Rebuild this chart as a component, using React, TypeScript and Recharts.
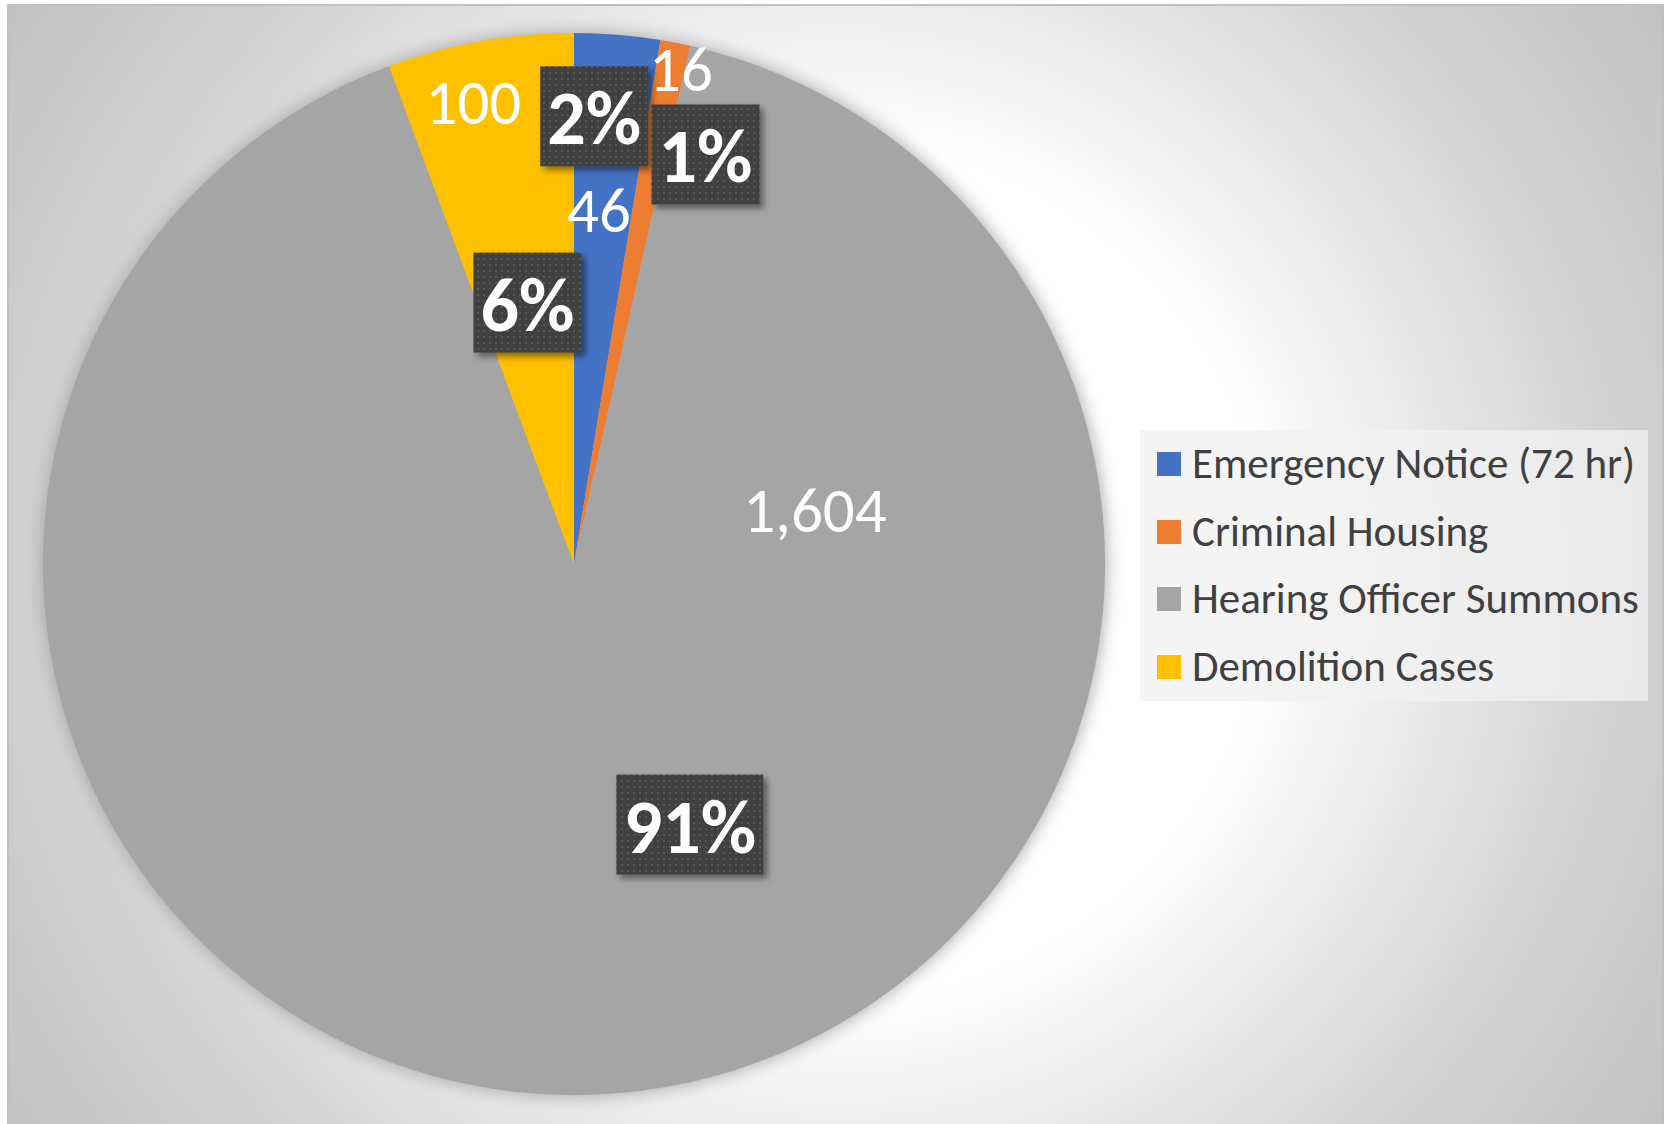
import React from 'react';
import { PieChart, Pie, Cell, Legend } from 'recharts';

const categories = ['Emergency Notice (72 hr)', 'Criminal Housing', 'Hearing Officer Summons', 'Demolition Cases'];
const caseCounts = [46, 16, 1604, 100];
const valueLabels = ['46', '16', '1,604', '100'];
const percentLabels = ['2%', '1%', '91%', '6%'];
const sliceColors = ['#4472C4', '#ED7D31', '#A5A5A5', '#FFC000'];

const data = categories.map((name, i) => ({ name, value: caseCounts[i] }));

// label placement relative to each slice: angle offset (deg, clockwise) from the slice mid-angle and radius fraction
const valuePlacement = [
  { da: -0.64, rf: 0.667 },
  { da: 1.2, rf: 0.953 },
  { da: -98.7, rf: 0.465 },
  { da: -2.1, rf: 0.89 },
];
const pctPlacement = [
  { da: -2.1, rf: 0.844 },
  { da: 6.8, rf: 0.81 },
  { da: -20.1, rf: 0.537 },
  { da: 0.1, rf: 0.5 },
];

const FONT = "Carlito, Lato, 'Open Sans', sans-serif";

const renderLabel = (props: any) => {
  const { cx, cy, midAngle, outerRadius, index } = props;
  const cw0 = 90 - midAngle;
  const pos = (p: { da: number; rf: number }) => {
    const a = ((cw0 + p.da) * Math.PI) / 180;
    const r = outerRadius * p.rf;
    return [cx + r * Math.sin(a), cy - r * Math.cos(a)];
  };
  const [vx, vy] = pos(valuePlacement[index]);
  const [px, py] = pos(pctPlacement[index]);
  const t = percentLabels[index];
  const w = 30 + 39 * t.length;
  const h = 100;
  return (
    <g key={`lbl-${index}`}>
      <text x={vx} y={vy} fill="#ffffff" fontSize={63} fontFamily={FONT} textAnchor="middle" dominantBaseline="central">
        {valueLabels[index]}
      </text>
      <rect x={px - w / 2} y={py - h / 2} width={w} height={h} fill="url(#dotPattern)" filter="url(#boxShadow)" />
      <text x={px} y={py + 2} fill="#ffffff" fontSize={76} fontWeight="bold" fontFamily={FONT} textAnchor="middle" dominantBaseline="central">
        {t}
      </text>
    </g>
  );
};

const renderLegend = () => (
  <div
    style={{
      width: 508,
      height: 271,
      background: 'rgba(242,242,242,0.75)',
      boxSizing: 'border-box',
      paddingTop: 0,
      paddingLeft: 17,
      fontFamily: FONT,
    }}
  >
    {categories.map((name, i) => (
      <div key={i} style={{ display: 'flex', alignItems: 'center', height: 67.7 }}>
        <div style={{ width: 24, height: 24, background: sliceColors[i], marginRight: 11, flex: 'none' }} />
        <span style={{ fontSize: 43, color: '#404040', lineHeight: '48px', whiteSpace: 'nowrap' }}>{name}</span>
      </div>
    ))}
  </div>
);

export default function App() {
  return (
    <div style={{ position: 'absolute', left: 0, top: 0, width: 1667, height: 1124, background: '#ffffff', overflow: 'hidden' }}>
      <svg width={0} height={0} style={{ position: 'absolute' }}>
        <defs>
          <pattern id="dotPattern" patternUnits="userSpaceOnUse" width={6} height={6}>
            <rect x={0} y={0} width={6} height={6} fill="#404040" />
            <rect x={2} y={2} width={2} height={2} fill="#575757" />
          </pattern>
          <filter id="boxShadow" x="-20%" y="-20%" width="150%" height="150%">
            <feDropShadow dx={4} dy={4} stdDeviation={3} floodColor="#000000" floodOpacity={0.45} />
          </filter>
          <filter id="pieGlow" x="-10%" y="-10%" width="120%" height="120%">
            <feGaussianBlur stdDeviation={9} />
          </filter>
        </defs>
      </svg>
      <div
        style={{
          position: 'absolute',
          left: 7,
          top: 4,
          width: 1657,
          height: 1120,
          borderTop: '2px solid #c0c0c0',
          borderLeft: '2px solid #c0c0c0',
          borderRight: '2px solid #c0c0c0',
          boxSizing: 'border-box',
          background:
            'radial-gradient(circle farthest-corner at 829px 566px, #ffffff 0%, #ffffff 42%, #ebebeb 58%, #d2d2d2 78%, #c2c2c2 100%)',
        }}
      />
      <div style={{ position: 'absolute', left: 7, top: 4 }}>
        <PieChart width={1657} height={1120} margin={{ top: 0, right: 0, bottom: 0, left: 0 }}>
          <Pie
            data={data}
            dataKey="value"
            nameKey="name"
            cx={567}
            cy={560}
            outerRadius={531}
            startAngle={90}
            endAngle={-270}
            stroke="none"
            isAnimationActive={false}
            legendType="none"
          >
            {data.map((d, i) => (
              <Cell key={`g-${i}`} fill="#a0a0a0" filter="url(#pieGlow)" />
            ))}
          </Pie>
          <Pie
            data={data}
            dataKey="value"
            nameKey="name"
            cx={567}
            cy={560}
            outerRadius={531}
            startAngle={90}
            endAngle={-270}
            stroke="none"
            isAnimationActive={false}
            labelLine={false}
            label={renderLabel}
          >
            {data.map((d, i) => (
              <Cell key={`c-${i}`} fill={sliceColors[i]} />
            ))}
          </Pie>
          <Legend
            content={renderLegend}
            wrapperStyle={{ position: 'absolute', left: 1133, top: 426, width: 508, height: 271 }}
          />
        </PieChart>
      </div>
    </div>
  );
}
